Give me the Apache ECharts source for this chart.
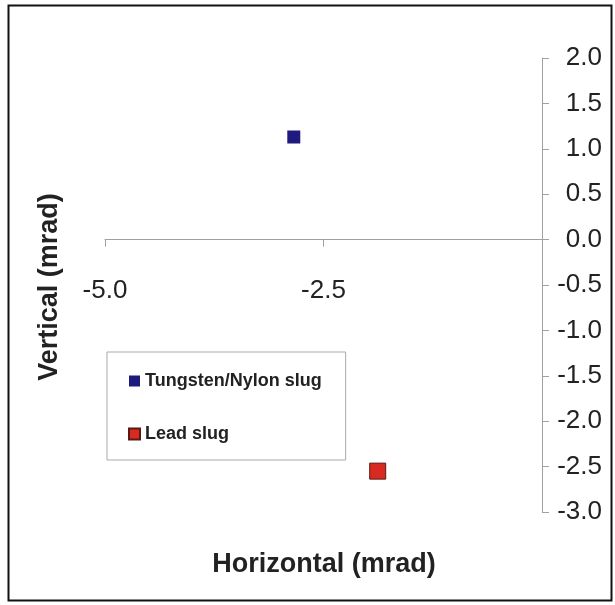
<!DOCTYPE html>
<html>
<head>
<meta charset="utf-8">
<script src="https://cdn.jsdelivr.net/npm/echarts@6/dist/echarts.min.js"></script>
<style>
html, body { margin: 0; padding: 0; background: #fff; }
#chart { width: 615px; height: 605px; }
</style>
</head>
<body>
<div id="chart"></div>
<script>
// 数据
var seriesNames = ['Tungsten/Nylon slug', 'Lead slug'];
var tungstenPts = [[-2.84, 1.13]];
var leadPts = [[-1.88, -2.55]];
var xTicks = { min: -5, max: 0, interval: 2.5 };
var yTicks = { min: -3, max: 2, interval: 0.5 };

// 网格
var gridTop = 58, gridBottom = 93, chartH = 605;
var plotH = chartH - gridTop - gridBottom;
// x轴放在 y=0 处（用 offset 上移）
var xAxisOffset = -plotH * (0 - yTicks.min) / (yTicks.max - yTicks.min);

var chart = echarts.init(document.getElementById('chart'));

chart.setOption({
    backgroundColor: '#fff',
    animation: false,
    grid: { left: 105, right: 73, top: gridTop, bottom: gridBottom },
    legend: {
        orient: 'vertical',
        left: 107,
        top: 352,
        data: seriesNames,
        icon: 'rect',
        itemWidth: 11,
        itemHeight: 11,
        itemGap: 35,
        padding: [20, 24, 17, 21],
        borderColor: '#aaa',
        borderWidth: 1,
        textStyle: {
            fontFamily: 'Liberation Sans, Arial',
            fontSize: 18,
            fontWeight: 'bold',
            color: '#222'
        }
    },
    xAxis: {
        type: 'value',
        position: 'bottom',
        offset: xAxisOffset,
        min: xTicks.min,
        max: xTicks.max,
        interval: xTicks.interval,
        axisLine: { onZero: false, lineStyle: { color: '#a0a0a0', width: 1 } },
        axisTick: { show: true, length: 7, lineStyle: { color: '#a0a0a0' } },
        axisLabel: {
            showMaxLabel: false,
            margin: 38,
            fontFamily: 'Liberation Sans, Arial',
            fontSize: 26,
            color: '#222',
            formatter: function (v) { return v.toFixed(1); }
        },
        splitLine: { show: false }
    },
    yAxis: {
        type: 'value',
        position: 'right',
        min: yTicks.min,
        max: yTicks.max,
        interval: yTicks.interval,
        axisLine: { show: true, onZero: false, lineStyle: { color: '#a0a0a0', width: 1 } },
        axisTick: { show: true, length: 7, lineStyle: { color: '#a0a0a0' } },
        axisLabel: {
            margin: 60,
            align: 'right',
            fontFamily: 'Liberation Sans, Arial',
            fontSize: 26,
            color: '#222',
            formatter: function (v) { return v.toFixed(1); }
        },
        splitLine: { show: false }
    },
    series: [
        {
            name: seriesNames[0],
            type: 'scatter',
            symbol: 'rect',
            symbolSize: 13,
            itemStyle: { color: '#1e1a7e', opacity: 1 },
            data: tungstenPts
        },
        {
            name: seriesNames[1],
            type: 'scatter',
            symbol: 'rect',
            symbolSize: 16,
            itemStyle: { color: '#d92a22', borderColor: '#5a1a14', borderWidth: 1, opacity: 1 },
            data: leadPts
        }
    ],
    graphic: [
        {
            type: 'rect',
            shape: { x: 8.5, y: 5.5, width: 603, height: 595 },
            style: { fill: 'none', stroke: '#111', lineWidth: 2 },
            silent: true
        },
        {
            type: 'text',
            x: 324,
            y: 565,
            style: {
                text: 'Horizontal (mrad)',
                fontFamily: 'Liberation Sans, Arial',
                fontSize: 27,
                fontWeight: 'bold',
                fill: '#222',
                align: 'center',
                verticalAlign: 'middle'
            }
        },
        {
            type: 'text',
            x: 50,
            y: 287,
            rotation: Math.PI / 2,
            style: {
                text: 'Vertical (mrad)',
                fontFamily: 'Liberation Sans, Arial',
                fontSize: 27,
                fontWeight: 'bold',
                fill: '#222',
                align: 'center',
                verticalAlign: 'middle'
            }
        }
    ]
});
</script>
</body>
</html>
